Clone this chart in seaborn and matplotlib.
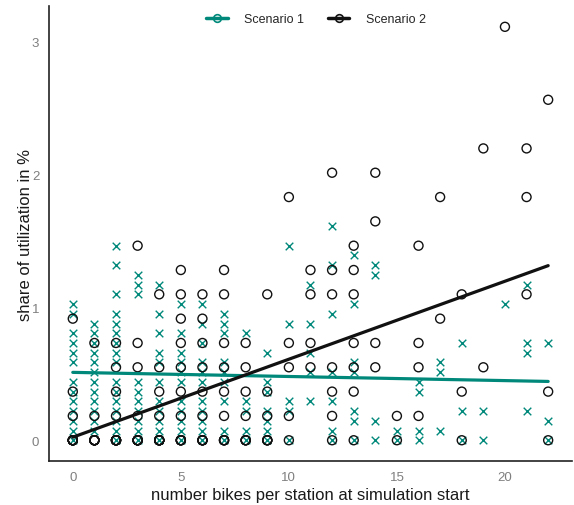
import matplotlib
matplotlib.use("Agg")
import matplotlib.pyplot as plt
from matplotlib.lines import Line2D
import seaborn as sns
import pandas as pd

# ---- data (one inner list per x = 0..22) ----
# Scenario 1 (crosses)
s1_by_x = [
    [0, 0.073, 0.146, 0.220, 0.293, 0.366, 0.439, 0.586, 0.659, 0.732, 0.805, 0.952, 1.025],
    [0.073, 0.146, 0.220, 0.293, 0.366, 0.439, 0.512, 0.586, 0.659, 0.732, 0.805, 0.878],
    [0, 0.073, 0.146, 0.220, 0.293, 0.366, 0.439, 0.586, 0.659, 0.732, 0.805, 0.878, 0.952, 1.098, 1.318, 1.464],
    [0, 0.073, 0.146, 0.220, 0.293, 0.366, 0.439, 1.098, 1.171, 1.244],
    [0, 0.073, 0.146, 0.220, 0.293, 0.439, 0.586, 0.659, 0.805, 0.952, 1.171],
    [0, 0.073, 0.146, 0.220, 0.293, 0.439, 0.512, 0.586, 0.659, 0.805, 1.025],
    [0, 0.073, 0.146, 0.220, 0.293, 0.439, 0.512, 0.586, 0.732, 0.878, 1.025],
    [0, 0.073, 0.293, 0.439, 0.512, 0.586, 0.805, 0.878, 0.952],
    [0, 0.073, 0.220, 0.293, 0.805],
    [0, 0.073, 0.146, 0.220, 0.366, 0.439, 0.659],
    [0, 0.220, 0.293, 0.878, 1.464],
    [0.293, 0.512, 0.659, 0.878, 1.171],
    [0, 0.073, 0.293, 0.512, 0.952, 1.318, 1.610],
    [0, 0.146, 0.220, 0.512, 0.586, 1.025, 1.391],
    [0, 0.146, 1.244, 1.318],
    [0, 0.073],
    [0, 0.073, 0.366, 0.439],
    [0.073, 0.512, 0.586],
    [0, 0.220, 0.732],
    [0, 0.220],
    [1.025],
    [0.220, 0.659, 0.732, 1.171],
    [0, 0.146, 0.732],
]
# Scenario 2 (open circles); repeated zeros are stations drawn on top of each other
s2_by_x = [
    [0, 0, 0, 0, 0, 0, 0, 0, 0.183, 0.366, 0.915],
    [0, 0, 0, 0, 0, 0, 0, 0, 0.183, 0.732],
    [0, 0, 0, 0, 0, 0, 0, 0, 0.183, 0.366, 0.549, 0.732],
    [0, 0, 0, 0, 0, 0, 0, 0, 0.183, 0.549, 0.732, 1.464],
    [0, 0, 0, 0, 0, 0, 0, 0, 0.183, 0.366, 0.549, 1.098],
    [0, 0, 0, 0, 0, 0.183, 0.366, 0.549, 0.732, 0.915, 1.098, 1.281],
    [0, 0, 0, 0, 0, 0.183, 0.366, 0.549, 0.732, 0.915, 1.098],
    [0, 0, 0, 0, 0.183, 0.366, 0.549, 0.732, 1.098, 1.281],
    [0, 0, 0, 0, 0.183, 0.366, 0.549, 0.732],
    [0, 0, 0, 0, 0.183, 0.366, 1.098],
    [0, 0.183, 0.549, 0.732, 1.830],
    [0.549, 0.732, 1.098, 1.281],
    [0, 0.183, 0.366, 0.549, 1.098, 1.281, 2.013],
    [0, 0.366, 0.549, 0.732, 1.098, 1.281, 1.464],
    [0.549, 0.732, 1.647, 2.013],
    [0, 0.183],
    [0.183, 0.549, 0.732, 1.464],
    [0.915, 1.830],
    [0, 0.366, 1.098],
    [0.549, 2.196],
    [3.111],
    [1.098, 1.830, 2.196],
    [0, 0.366, 2.562],
]

labels = ["Scenario 1", "Scenario 2"]
x_ticks = [0, 5, 10, 15, 20]
y_ticks = [0, 1, 2, 3]
x_label = "number bikes per station at simulation start"
y_label = "share of utilization in %"

teal = "#00897b"
dark = "#111111"

df1 = pd.DataFrame([(x, v) for x, vals in enumerate(s1_by_x) for v in vals], columns=["x", "y"])
df2 = pd.DataFrame([(x, v) for x, vals in enumerate(s2_by_x) for v in vals], columns=["x", "y"])

sns.set_theme(style="white")
plt.rcParams["font.family"] = ["Liberation Sans", "DejaVu Sans"]

fig = plt.figure(figsize=(5.74, 5.06), dpi=100)
ax = fig.add_axes([0.0854, 0.087, 0.911, 0.899])

sns.scatterplot(data=df1, x="x", y="y", marker="x", s=30, color=teal,
                linewidth=1.0, ax=ax, legend=False, zorder=2)
sns.scatterplot(data=df2, x="x", y="y", marker="o", s=42, facecolor="none",
                edgecolor=dark, linewidth=1.0, ax=ax, legend=False, zorder=3)
sns.regplot(data=df1, x="x", y="y", scatter=False, ci=None, ax=ax,
            line_kws={"color": teal, "lw": 2.3, "zorder": 4}, truncate=True)
sns.regplot(data=df2, x="x", y="y", scatter=False, ci=None, ax=ax,
            line_kws={"color": dark, "lw": 2.3, "zorder": 5}, truncate=True)

ax.set_xlim(-1.1, 23.1)
ax.set_ylim(-0.156, 3.267)
ax.set_xticks(x_ticks)
ax.set_yticks(y_ticks)
ax.tick_params(axis="both", length=0, labelsize=9.5, labelcolor="#7f7f7f", pad=7)
ax.set_xlabel(x_label, fontsize=12, color="#1a1a1a", labelpad=3)
ax.set_ylabel(y_label, fontsize=12, color="#1a1a1a", labelpad=-1)
for side in ["top", "right"]:
    ax.spines[side].set_visible(False)
for side in ["left", "bottom"]:
    ax.spines[side].set_color("#222222")
    ax.spines[side].set_linewidth(1.2)
ax.grid(False)

handles = [
    Line2D([], [], color=teal, lw=2.5, marker="o", markersize=5.5,
           markerfacecolor="none", markeredgecolor=teal, markeredgewidth=1.2),
    Line2D([], [], color=dark, lw=2.5, marker="o", markersize=5.5,
           markerfacecolor="none", markeredgecolor=dark, markeredgewidth=1.2),
]
ax.legend(handles, labels, loc="upper center", bbox_to_anchor=(0.51, 1.009),
          ncol=2, frameon=False, fontsize=9, handlelength=1.75,
          columnspacing=1.9, handletextpad=1.3)

fig.savefig("out.png", dpi=100)
